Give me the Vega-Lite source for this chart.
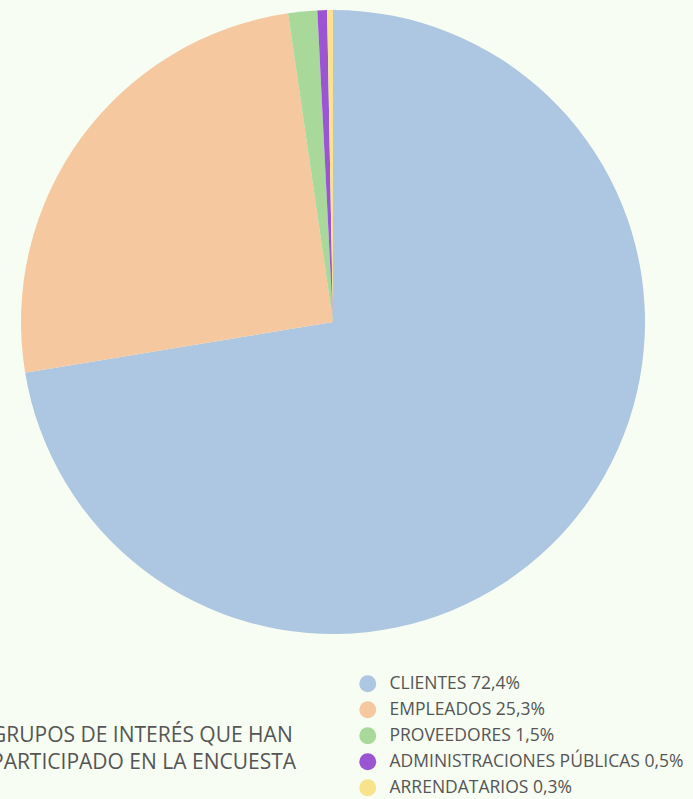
{
  "$schema": "https://vega.github.io/schema/vega-lite/v6.json",
  "autosize": "none",
  "width": 666,
  "height": 644,
  "padding": {"left": 0, "top": 0, "right": 27, "bottom": 155},
  "background": "#f7fdf3",
  "title": {
    "text": ["GRUPOS DE INTERÉS QUE HAN", "PARTICIPADO EN LA ENCUESTA"],
    "orient": "bottom",
    "anchor": "start",
    "frame": "group",
    "dx": -9,
    "offset": -72,
    "font": "Open Sans",
    "fontSize": 21,
    "fontWeight": "normal",
    "color": "#555555",
    "lineHeight": 27,
    "baseline": "top"
  },
  "config": {"view": {"stroke": null}},
  "data": {
    "values": [
      {"grupo": "CLIENTES 72,4%", "valor": 72.4, "orden": 1},
      {"grupo": "EMPLEADOS 25,3%", "valor": 25.3, "orden": 2},
      {"grupo": "PROVEEDORES 1,5%", "valor": 1.5, "orden": 3},
      {"grupo": "ADMINISTRACIONES PÚBLICAS 0,5%", "valor": 0.5, "orden": 4},
      {"grupo": "ARRENDATARIOS 0,3%", "valor": 0.3, "orden": 5}
    ]
  },
  "mark": {"type": "arc", "outerRadius": 312},
  "encoding": {
    "theta": {"field": "valor", "type": "quantitative", "stack": true},
    "order": {"field": "orden", "type": "quantitative"},
    "color": {
      "field": "grupo",
      "type": "nominal",
      "scale": {
        "domain": ["CLIENTES 72,4%", "EMPLEADOS 25,3%", "PROVEEDORES 1,5%", "ADMINISTRACIONES PÚBLICAS 0,5%", "ARRENDATARIOS 0,3%"],
        "range": ["#adc6e1", "#f5c8a0", "#a8d89a", "#9b55d2", "#f8e38c"]
      },
      "legend": {
        "orient": "none",
        "legendX": 359,
        "legendY": 675,
        "title": null,
        "padding": 0,
        "symbolType": "circle",
        "symbolSize": 289,
        "symbolStrokeWidth": 0,
        "symbolOpacity": 1,
        "labelFont": "Open Sans",
        "labelFontSize": 17.5,
        "labelColor": "#555555",
        "labelOffset": 13,
        "labelLimit": 400,
        "rowPadding": 7
      }
    }
  }
}
